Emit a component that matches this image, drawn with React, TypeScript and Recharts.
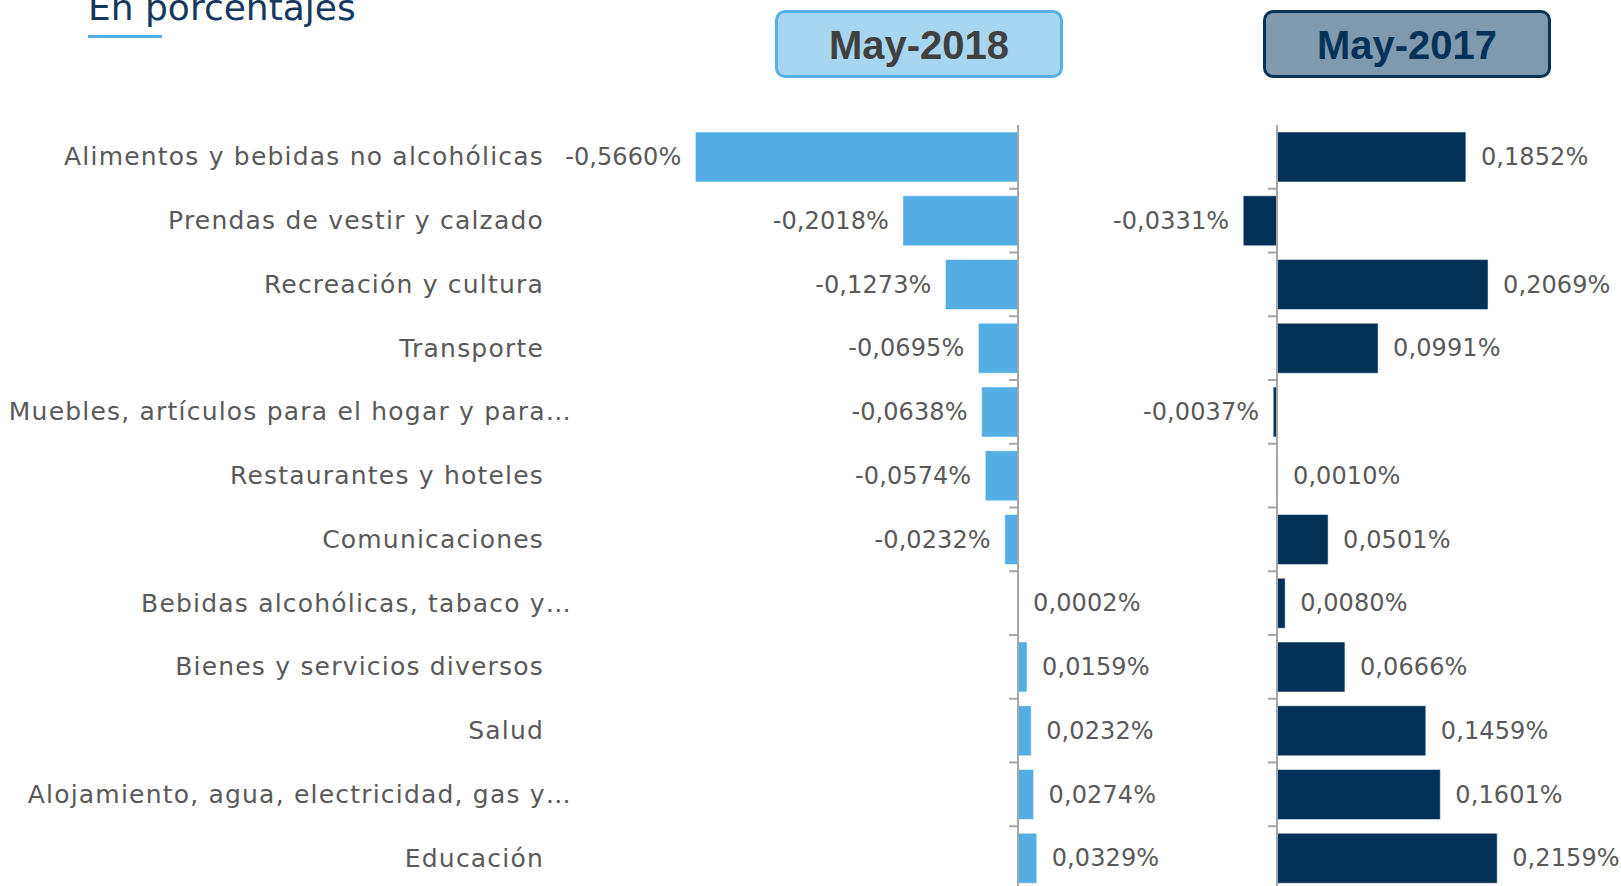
import React from "react";
import { BarChart, Bar, XAxis, YAxis, ReferenceLine, LabelList } from "recharts";

const categories = [
  "Alimentos y bebidas no alcohólicas",
  "Prendas de vestir y calzado",
  "Recreación y cultura",
  "Transporte",
  "Muebles, artículos para el hogar y para…",
  "Restaurantes y hoteles",
  "Comunicaciones",
  "Bebidas alcohólicas, tabaco y…",
  "Bienes y servicios diversos",
  "Salud",
  "Alojamiento, agua, electricidad, gas y…",
  "Educación",
];

const may2018 = [-0.566, -0.2018, -0.1273, -0.0695, -0.0638, -0.0574, -0.0232, 0.0002, 0.0159, 0.0232, 0.0274, 0.0329];
const may2017 = [0.1852, -0.0331, 0.2069, 0.0991, -0.0037, 0.001, 0.0501, 0.008, 0.0666, 0.1459, 0.1601, 0.2159];

const periods = ["May-2018", "May-2017"];

const data = categories.map((name, i) => ({ name, may2018: may2018[i], may2017: may2017[i] }));

const FONT = "'DejaVu Sans', sans-serif";
const TEXT = "#595959";
const AXIS = "#A6A6A6";
const LIGHT_BLUE = "#52AEE3";
const NAVY = "#023157";

const fmt = (v: number) => `${v.toFixed(4).replace(".", ",")}%`;

function CategoryTick(props: any) {
  const { y, payload } = props;
  const label: string = payload.value;
  // excel lets the clipped labels run a bit past the right edge
  const x = label.endsWith("…") ? 572 : 544;
  return (
    <text
      x={x}
      y={y}
      textAnchor="end"
      dominantBaseline="central"
      fill={TEXT}
      fontSize={25}
      letterSpacing={1.2}
      fontFamily={FONT}
    >
      {label}
    </text>
  );
}

function ValueLabel(props: any) {
  const vb = props.viewBox ?? props;
  const value = Number(props.value);
  const x0 = Number(vb.x);
  const w = Number(vb.width);
  const cy = Number(vb.y) + Number(vb.height) / 2;
  const neg = value < 0;
  const end = neg ? Math.min(x0, x0 + w) : Math.max(x0, x0 + w);
  return (
    <text
      x={neg ? end - 14 : end + 15}
      y={cy}
      textAnchor={neg ? "end" : "start"}
      dominantBaseline="central"
      fill={TEXT}
      fontSize={24}
      letterSpacing={0.1}
      fontFamily={FONT}
    >
      {fmt(value)}
    </text>
  );
}

function ZeroAxis(props: any) {
  const { x1, y1, y2 } = props;
  const n = categories.length;
  const step = (y2 - y1) / n;
  return (
    <g>
      <line x1={x1} y1={y1} x2={x1} y2={y2} stroke={AXIS} strokeWidth={2} />
      {categories.map((_, i) => (
        <line key={i} x1={x1 - 9} x2={x1} y1={y1 + i * step} y2={y1 + i * step} stroke={AXIS} strokeWidth={2} />
      ))}
    </g>
  );
}

function PeriodBox({ label, left, fill, border, color }: { label: string; left: number; fill: string; border: string; color: string }) {
  return (
    <div
      style={{
        position: "absolute",
        left,
        top: 10,
        width: 282,
        height: 60,
        boxSizing: "content-box",
        background: fill,
        border: `3px solid ${border}`,
        borderRadius: 10,
        display: "flex",
        alignItems: "center",
        justifyContent: "center",
        paddingTop: 2,
        color,
        fontFamily: "'Liberation Sans', Arial, sans-serif",
        fontWeight: 700,
        fontSize: 40,
      }}
    >
      {label}
    </div>
  );
}

export default function App() {
  return (
    <div style={{ position: "fixed", left: 0, top: 0, width: 1621, height: 886, overflow: "hidden", background: "#fff" }}>
      <div
        style={{
          position: "absolute",
          left: 88,
          top: -10,
          lineHeight: "36px",
          fontSize: 36,
          fontFamily: FONT,
          color: "#15395E",
          whiteSpace: "nowrap",
        }}
      >
        En porcentajes
      </div>
      <div style={{ position: "absolute", left: 88, top: 35, width: 74, height: 3, background: LIGHT_BLUE }} />

      <PeriodBox label={periods[0]} left={775} fill="#A8D6F1" border="#55B1E6" color="#404040" />
      <PeriodBox label={periods[1]} left={1263} fill="#7F99AE" border="#063257" color="#063257" />

      <div style={{ position: "absolute", left: 0, top: 0 }}>
        <BarChart
          layout="vertical"
          width={1200}
          height={890}
          data={data}
          margin={{ top: 125, right: 125, bottom: 0, left: 0 }}
          barCategoryGap="11%"
        >
          <XAxis type="number" domain={[-0.6, 0.1]} hide />
          <YAxis
            type="category"
            dataKey="name"
            width={676}
            axisLine={false}
            tickLine={false}
            interval={0}
            tick={<CategoryTick />}
          />
          <Bar dataKey="may2018" fill={LIGHT_BLUE} stroke="rgba(255,255,255,0.5)" strokeWidth={1} isAnimationActive={false}>
            <LabelList dataKey="may2018" content={<ValueLabel />} />
          </Bar>
          <ReferenceLine x={0} shape={<ZeroAxis />} />
        </BarChart>
      </div>

      <div style={{ position: "absolute", left: 1100, top: 0 }}>
        <BarChart
          layout="vertical"
          width={521}
          height={890}
          data={data}
          margin={{ top: 125, right: 89, bottom: 0, left: 126 }}
          barCategoryGap="11%"
        >
          <XAxis type="number" domain={[-0.05, 0.25]} hide />
          <YAxis type="category" dataKey="name" hide />
          <Bar dataKey="may2017" fill={NAVY} stroke="rgba(255,255,255,0.5)" strokeWidth={1} isAnimationActive={false}>
            <LabelList dataKey="may2017" content={<ValueLabel />} />
          </Bar>
          <ReferenceLine x={0} shape={<ZeroAxis />} />
        </BarChart>
      </div>
    </div>
  );
}
